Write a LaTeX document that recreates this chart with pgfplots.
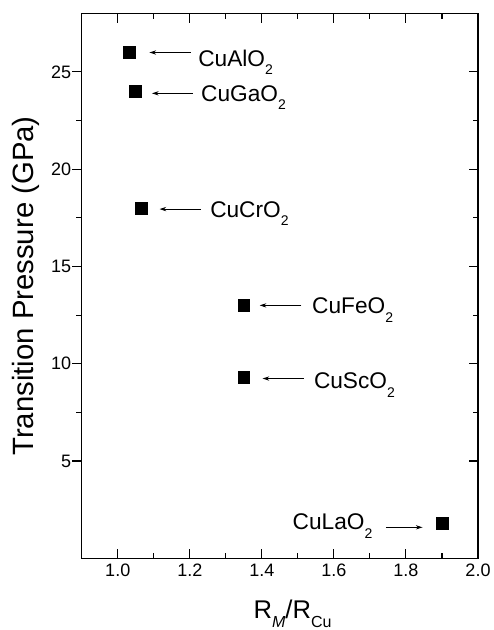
\documentclass[border=0pt]{standalone}
\usepackage{fontspec}
\setmainfont{Liberation Sans}
\usepackage{pgfplots}
\pgfplotsset{compat=1.18}
\usetikzlibrary{arrows.meta}

\newcommand{\lab}[2]{\fontsize{17}{17}\selectfont #1\raisebox{-6.3pt}{\fontsize{10.5}{10.5}\selectfont #2}}

\pgfplotsset{
  common/.style={
    at={(0,0)}, anchor=south west, scale only axis,
    width=297.2pt, height=408.5pt,
    xmin=0.9, xmax=2.0, ymin=0, ymax=28,
    ytick={5,10,15,20,25},
    minor y tick num=1,
    major tick length=7pt, minor tick length=4pt,
    axis line style={line width=0.9pt},
    every tick/.style={line width=0.8pt, black},
    /pgf/number format/assume math mode=true,
    ticklabel style={font=\fontsize{13.5}{13.5}\selectfont},
  }
}

\begin{document}
\begin{tikzpicture}
\path[use as bounding box] (-61.3pt,-53.8pt) rectangle (308.5pt,418.7pt);
% axis with outward left ticks and y labels
\begin{axis}[common,
  xtick=\empty,
  ytick pos=left, tick align=outside,
  yticklabel style={xshift=2.5pt},
]
\end{axis}
\begin{axis}[common,
  xtick={1.0,1.2,1.4,1.6,1.8,2.0},
  minor x tick num=1,
  xtick pos=both, ytick pos=right, yticklabels={},
  tick align=inside,
  xticklabel style={yshift=-1pt, /pgf/number format/.cd, fixed, fixed zerofill, precision=1},
]
\addplot[only marks, mark=square*, mark size=4.4pt, black] coordinates {
  (1.031,26.0) (1.048,24.0) (1.065,18.0) (1.35,13.0) (1.35,9.3) (1.90,1.8)
};
\draw[line width=0.6pt, -{Stealth[length=5pt,width=3.2pt]}] (axis cs:1.203,26.0) -- (axis cs:1.088,26.0);
\node[anchor=base west, inner sep=0pt] at (axis cs:1.223,25.29) {\lab{CuAlO}{2}};
\draw[line width=0.6pt, -{Stealth[length=5pt,width=3.2pt]}] (axis cs:1.208,23.9) -- (axis cs:1.095,23.9);
\node[anchor=base west, inner sep=0pt] at (axis cs:1.231,23.49) {\lab{CuGaO}{2}};
\draw[line width=0.6pt, -{Stealth[length=5pt,width=3.2pt]}] (axis cs:1.230,17.95) -- (axis cs:1.116,17.95);
\node[anchor=base west, inner sep=0pt] at (axis cs:1.256,17.52) {\lab{CuCrO}{2}};
\draw[line width=0.6pt, -{Stealth[length=5pt,width=3.2pt]}] (axis cs:1.510,13.0) -- (axis cs:1.394,13.0);
\node[anchor=base west, inner sep=0pt] at (axis cs:1.539,12.57) {\lab{CuFeO}{2}};
\draw[line width=0.6pt, -{Stealth[length=5pt,width=3.2pt]}] (axis cs:1.516,9.24) -- (axis cs:1.402,9.24);
\node[anchor=base west, inner sep=0pt] at (axis cs:1.544,8.72) {\lab{CuScO}{2}};
\draw[line width=0.6pt, -{Stealth[length=5pt,width=3.2pt]}] (axis cs:1.744,1.59) -- (axis cs:1.846,1.59);
\node[anchor=base west, inner sep=0pt] at (axis cs:1.485,1.47) {\lab{CuLaO}{2}};
\end{axis}
\node[anchor=base west, inner sep=0pt] at (128.7pt,-45pt) {\fontsize{19.2}{19.2}\selectfont R\raisebox{-7.3pt}{\fontsize{12}{12}\selectfont\itshape M}/R\raisebox{-7.3pt}{\fontsize{12}{12}\selectfont Cu}};
\node[rotate=90, anchor=base, inner sep=0pt] at (-36.3pt,204.2pt) {\fontsize{22}{22}\selectfont Transition Pressure (GPa)};
\end{tikzpicture}
\end{document}
